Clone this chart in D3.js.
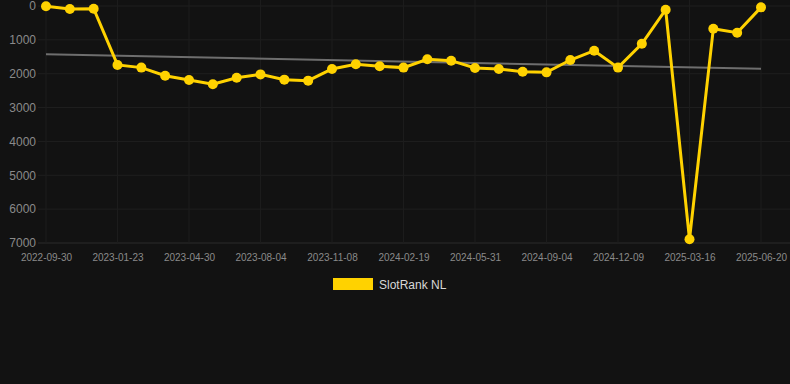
<!DOCTYPE html>
<html>
<head>
<meta charset="utf-8">
<script src="https://cdn.jsdelivr.net/npm/d3@7"></script>
<style>
  html, body { margin: 0; padding: 0; background: #121212; }
  svg { display: block; font-family: "Liberation Sans", Arial, sans-serif; }
</style>
</head>
<body>
<svg id="chart" width="790" height="384"></svg>
<script>
// x轴标签(每3个点一个)
const tickLabels = ["2022-09-30", "2023-01-23", "2023-04-30", "2023-08-04", "2023-11-08",
    "2024-02-19", "2024-05-31", "2024-09-04", "2024-12-09", "2025-03-16", "2025-06-20"];
// SlotRank NL 排名
const rankValues = [10, 90, 80, 1740, 1820, 2060, 2185, 2310, 2120, 2020, 2175, 2205,
    1860, 1720, 1780, 1820, 1575, 1615, 1830, 1860, 1940, 1960, 1595, 1320, 1820,
    1115, 110, 6890, 670, 790, 40];
// 趋势线两端
const trendValues = [1425, 1855];
const yTicks = [0, 1000, 2000, 3000, 4000, 5000, 6000, 7000];
const seriesName = "SlotRank NL";

function drawChart() {
    const svg = d3.select("#chart");
    const margin = {top: 6, right: 29, bottom: 141, left: 46};
    const width = 790 - margin.left - margin.right;
    const height = 384 - margin.top - margin.bottom;
    const yellow = "#ffd200";

    const chart = svg.append("g")
        .attr("transform", `translate(${margin.left},${margin.top})`);

    const xScale = d3.scaleLinear()
        .domain([0, rankValues.length - 1])
        .range([0, width]);

    const yScale = d3.scaleLinear()
        .domain([0, 7000])
        .range([0, height]);

    const xTicks = tickLabels.map((_, i) => i * 3);

    // 网格
    chart.append("g")
        .selectAll("line")
        .data(yTicks)
        .join("line")
        .attr("x1", -8).attr("x2", width + margin.right)
        .attr("y1", d => yScale(d)).attr("y2", d => yScale(d))
        .attr("stroke", d => d === 7000 ? "#2a2a2a" : "#1f1f1f")
        .attr("stroke-width", 1);

    chart.append("g")
        .selectAll("line")
        .data(xTicks)
        .join("line")
        .attr("x1", d => xScale(d)).attr("x2", d => xScale(d))
        .attr("y1", -margin.top).attr("y2", height)
        .attr("stroke", "#1c1c1c")
        .attr("stroke-width", 1);

    // y轴
    const yAxis = chart.append("g")
        .call(d3.axisLeft(yScale).tickValues(yTicks).tickSize(0).tickPadding(10).tickFormat(d3.format("d")));
    yAxis.select(".domain").remove();
    yAxis.selectAll("text")
        .attr("fill", "#8a8a8a")
        .style("font-size", "12px")
        .style("font-family", "Liberation Sans, Arial, sans-serif");

    // x轴
    const xAxis = chart.append("g")
        .attr("transform", `translate(0,${height})`)
        .call(d3.axisBottom(xScale).tickValues(xTicks).tickSize(0).tickPadding(11)
            .tickFormat((d, i) => tickLabels[i]));
    xAxis.select(".domain").remove();
    xAxis.selectAll("text")
        .attr("fill", "#8a8a8a")
        .style("font-size", "10px")
        .style("font-family", "Liberation Sans, Arial, sans-serif");

    // 趋势线
    chart.append("line")
        .attr("x1", xScale(0))
        .attr("x2", xScale(rankValues.length - 1))
        .attr("y1", yScale(trendValues[0]))
        .attr("y2", yScale(trendValues[1]))
        .attr("stroke", "#6e6e6e")
        .attr("stroke-width", 2);

    const line = d3.line()
        .x((_, i) => xScale(i))
        .y(d => yScale(d));

    chart.append("path")
        .datum(rankValues)
        .attr("fill", "none")
        .attr("stroke", yellow)
        .attr("stroke-width", 3)
        .attr("d", line);

    chart.append("g")
        .selectAll("circle")
        .data(rankValues)
        .join("circle")
        .attr("cx", (_, i) => xScale(i))
        .attr("cy", d => yScale(d))
        .attr("r", 5)
        .attr("fill", yellow);

    // 图例
    const legend = svg.append("g")
        .attr("transform", "translate(333,278)");
    legend.append("rect")
        .attr("width", 40)
        .attr("height", 12)
        .attr("fill", yellow);
    legend.append("text")
        .attr("x", 46)
        .attr("y", 10.5)
        .attr("fill", "#d8d8d8")
        .style("font-size", "12px")
        .text(seriesName);
}

drawChart();
</script>
</body>
</html>
